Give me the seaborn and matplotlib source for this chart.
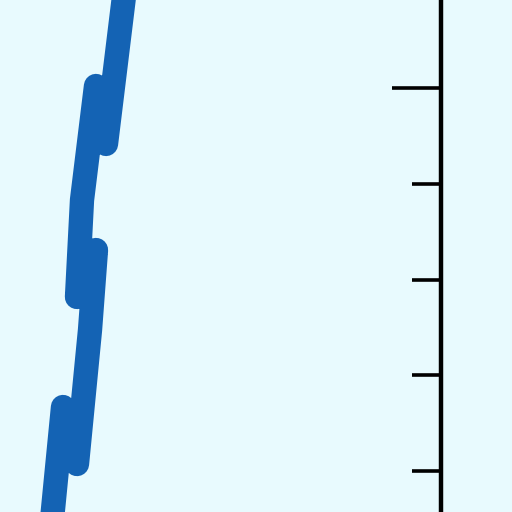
import numpy as np
import pandas as pd
import matplotlib
matplotlib.use("Agg")
import matplotlib.pyplot as plt
import seaborn as sns

# path of the thick trace
trace_x = [0.1065, 0.1316, 0.1608, 0.1880, 0.2005, 0.1608, 0.1713, 0.2005, 0.2214, 0.2632]
trace_y = [0.0768, 0.3337, 0.2146, 0.4945, 0.6616, 0.5635, 0.7661, 1.0042, 0.8831, 1.2256]
major_ticks = [1.0]
minor_ticks = [0.2, 0.4, 0.6, 0.8]

bg = '#E8FAFE'
line_color = '#1463B4'

sns.set_style("ticks")
fig = plt.figure(figsize=(5.12, 5.12), dpi=100, facecolor=bg)
ax = fig.add_axes([0, 0, 441 / 512, 1])
ax.set_facecolor(bg)

df = pd.DataFrame({'x': trace_x, 'y': trace_y})
sns.lineplot(data=df, x='x', y='y', sort=False, estimator=None, ax=ax,
             color=line_color, lw=17.5, solid_capstyle='round', solid_joinstyle='round')

ax.set_xlim(0, 441 / 478.75)
ax.set_ylim(0.1144, 1.1838)
ax.set_xlabel('')
ax.set_ylabel('')

for s in ['top', 'bottom', 'left']:
    ax.spines[s].set_visible(False)
ax.spines['right'].set_linewidth(3.2)
ax.spines['right'].set_color('black')

ax.set_xticks([])
ax.yaxis.tick_right()
ax.set_yticks(major_ticks)
ax.set_yticks(minor_ticks, minor=True)
ax.tick_params(axis='y', which='major', direction='in', length=35, width=2.6,
               color='black', labelright=False)
ax.tick_params(axis='y', which='minor', direction='in', length=21, width=2.6,
               color='black', labelright=False)

fig.savefig('out.png', dpi=100, facecolor=bg)
